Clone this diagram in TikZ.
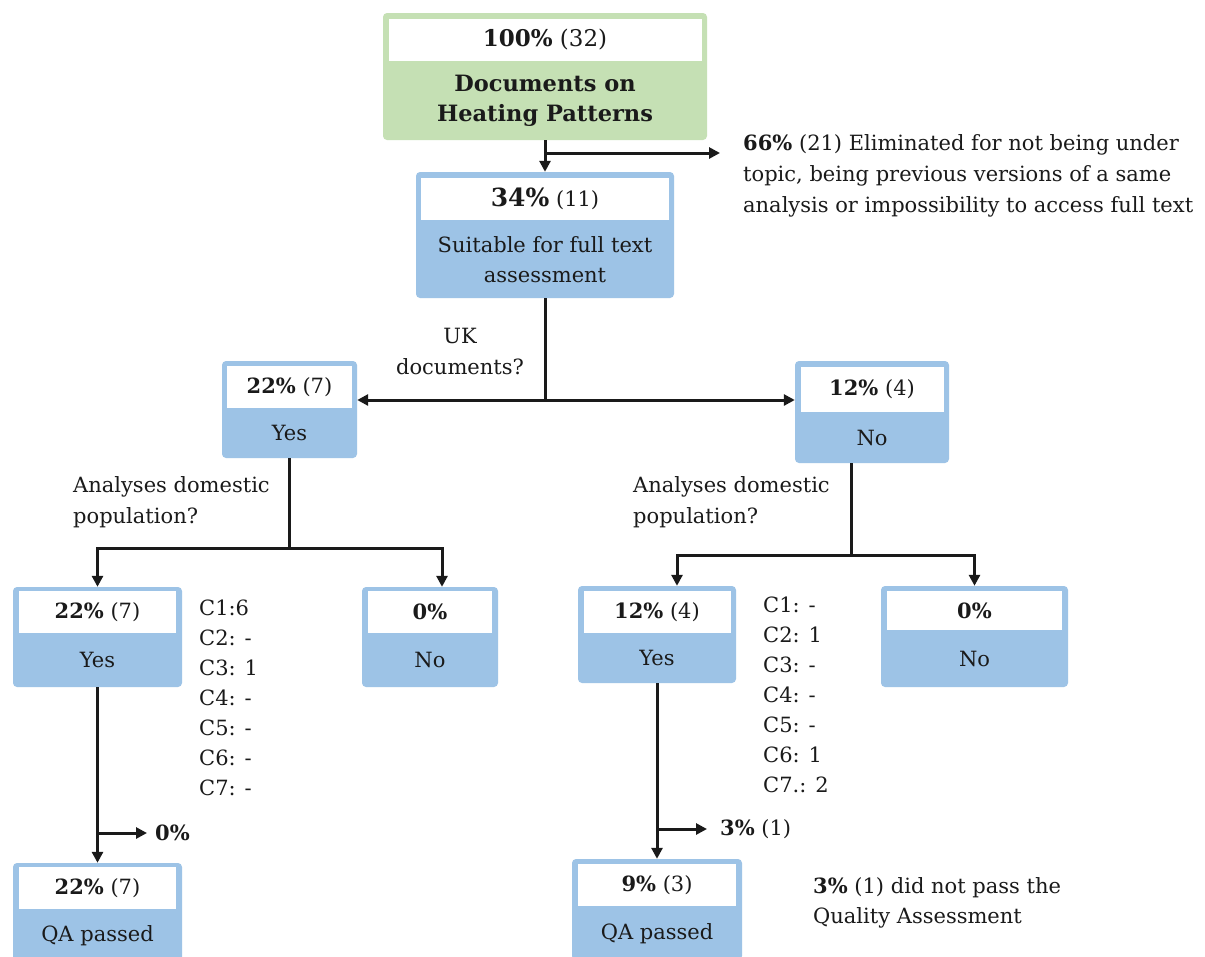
\documentclass[tikz,border=0pt]{standalone}
\usepackage{fontspec}
\setmainfont{DejaVu Serif}
\usepackage{xcolor}
\usetikzlibrary{arrows.meta,positioning,calc}
\definecolor{boxblue}{HTML}{9DC3E6}
\definecolor{boxgreen}{HTML}{C5E0B4}
\definecolor{ink}{HTML}{1A1A1A}

\begin{document}
\begin{tikzpicture}[x=1pt,y=-1pt,
  every node/.style={font=\fontsize{21}{30}\selectfont,inner sep=0pt,text=ink},
  box/.style={fill=boxblue,rounded corners=4pt},
  band/.style={fill=white,minimum height=42pt},
  big/.style={font=\fontsize{23}{30}\selectfont},
  conn/.style={draw=ink,line width=3pt},
  arr/.style={-{Triangle[length=11pt,width=11pt]}}]
\useasboundingbox (0,0) rectangle (1205,956);
\fill[white] (0,0) rectangle (1205,956);

% main flow
\node[box,fill=boxgreen,minimum width=324pt,minimum height=127pt] (src) at (545,76.5) {};
\node[band,big,minimum width=313pt,below=6pt of src.north] (srcband) {\textbf{100\%} (32)};
\node[align=center,font=\fontsize{22.5}{30}\selectfont] (srclbl) at ($(srcband.south)!0.5!(src.south)$) {\textbf{Documents on}\\\textbf{Heating Patterns}};

\node[box,minimum width=258pt,minimum height=126pt] (full) at (545,235) {};
\node[band,minimum width=248pt,below=6pt of full.north] (fullband) {{\fontsize{25}{30}\selectfont\textbf{34\%}} (11)};
\node[align=center] (fulllbl) at ($(fullband.south)!0.5!(full.south)$) {Suitable for full text\\assessment};

\node[align=left,anchor=west,font=\fontsize{21}{31}\selectfont] (elim) at (743,176)
  {\textbf{66\%} (21) Eliminated for not being under\\topic, being previous versions of a same\\analysis or impossibility to access full text};

% UK documents?
\node[box,minimum width=135pt,minimum height=97pt] (uky) at (289.5,409.5) {};
\node[band,minimum width=125pt,below=5pt of uky.north] (ukyband) {\textbf{22\%} (7)};
\node (ukylbl) at ($(ukyband.south)!0.5!(uky.south)$) {Yes};

\node[box,minimum width=154pt,minimum height=102pt] (ukn) at (872,412) {};
\node[band,minimum width=143pt,minimum height=45pt,below=6pt of ukn.north] (uknband) {\textbf{12\%} (4)};
\node (uknlbl) at ($(uknband.south)!0.5!(ukn.south)$) {No};

\node[align=center,font=\fontsize{21}{31}\selectfont] (ukq) at (460,351.5) {UK\\documents?};

% domestic population, UK side
\node[align=left,anchor=west,font=\fontsize{21}{31}\selectfont] (lq) at (73,502.5) {Analyses domestic\\population?};

\node[box,minimum width=169pt,minimum height=100pt] (ly) at (97.5,637) {};
\node[band,minimum width=157pt,below=4pt of ly.north] (lyband) {\textbf{22\%} (7)};
\node (lylbl) at ($(lyband.south)!0.5!(ly.south)$) {Yes};

\node[box,minimum width=136pt,minimum height=100pt] (ln) at (430,637) {};
\node[band,minimum width=124pt,below=4pt of ln.north] (lnband) {\textbf{0\%}};
\node (lnlbl) at ($(lnband.south)!0.5!(ln.south)$) {No};

\node[align=left,anchor=west] (lcrit) at (199,697.5) {C1:6\\C2: -\\C3: 1\\C4: -\\C5: -\\C6: -\\C7: -};

\node[box,minimum width=169pt,minimum height=98pt] (lqa) at (97.5,912) {};
\node[band,minimum width=157pt,below=4pt of lqa.north] (lqaband) {\textbf{22\%} (7)};
\node (lqalbl) at ($(lqaband.south)!0.5!(lqa.south)$) {QA passed};

\node[anchor=west] (lqaloss) at (155,833) {\textbf{0\%}};

% domestic population, other side
\node[align=left,anchor=west,font=\fontsize{21}{31}\selectfont] (rq) at (633,502.5) {Analyses domestic\\population?};

\node[box,minimum width=158pt,minimum height=97pt] (ry) at (657,634.5) {};
\node[band,minimum width=147pt,below=5pt of ry.north] (ryband) {\textbf{12\%} (4)};
\node (rylbl) at ($(ryband.south)!0.5!(ry.south)$) {Yes};

\node[box,minimum width=187pt,minimum height=101pt] (rn) at (974.5,636.5) {};
\node[band,minimum width=175pt,minimum height=39pt,below=5pt of rn.north] (rnband) {\textbf{0\%}};
\node (rnlbl) at ($(rnband.south)!0.5!(rn.south)$) {No};

\node[align=left,anchor=west] (rcrit) at (763,695) {C1: -\\C2: 1\\C3: -\\C4: -\\C5: -\\C6: 1\\C7.: 2};

\node[box,minimum width=170pt,minimum height=101pt] (rqa) at (657,909.5) {};
\node[band,minimum width=158pt,below=5pt of rqa.north] (rqaband) {\textbf{9\%} (3)};
\node (rqalbl) at ($(rqaband.south)!0.5!(rqa.south)$) {QA passed};

\node[anchor=west] (rqaloss) at (720,829) {\textbf{3\%} (1)};
\node[align=left,anchor=west] (rqanote) at (813,903) {\textbf{3\%} (1) did not pass the\\Quality Assessment};

% connectors
\coordinate (cut) at (545,153);
\coordinate (elimtip) at (720,153);
\draw[conn,arr] (src.south) -- (full.north);
\draw[conn,arr] (cut) -- (elimtip);

\coordinate (uksplit) at (545,400);
\draw[conn] (full.south) -- (uksplit);
\draw[conn,arr] (uksplit) -- (uksplit -| uky.east);
\draw[conn,arr] (uksplit) -- (uksplit -| ukn.west);

\coordinate (lsplit) at (289.5,548);
\draw[conn] (uky.south) -- (lsplit);
\draw[conn,arr] (lsplit) -| (ly.north);
\draw[conn,arr] (lsplit) -| ([xshift=12pt]ln.north);

\coordinate (rsplit) at (851,555);
\draw[conn] ([xshift=-21pt]ukn.south) -- (rsplit);
\draw[conn,arr] (rsplit) -| ([xshift=20pt]ry.north);
\draw[conn,arr] (rsplit) -| (rn.north);

\coordinate (lqacut) at (97.5,833);
\coordinate (lqaout) at (147,833);
\draw[conn,arr] (ly.south) -- (lqa.north);
\draw[conn,arr] (lqacut) -- (lqaout);

\coordinate (rqacut) at (657,829);
\coordinate (rqaout) at (707,829);
\draw[conn,arr] (ry.south) -- (rqa.north);
\draw[conn,arr] (rqacut) -- (rqaout);
\end{tikzpicture}
\end{document}
